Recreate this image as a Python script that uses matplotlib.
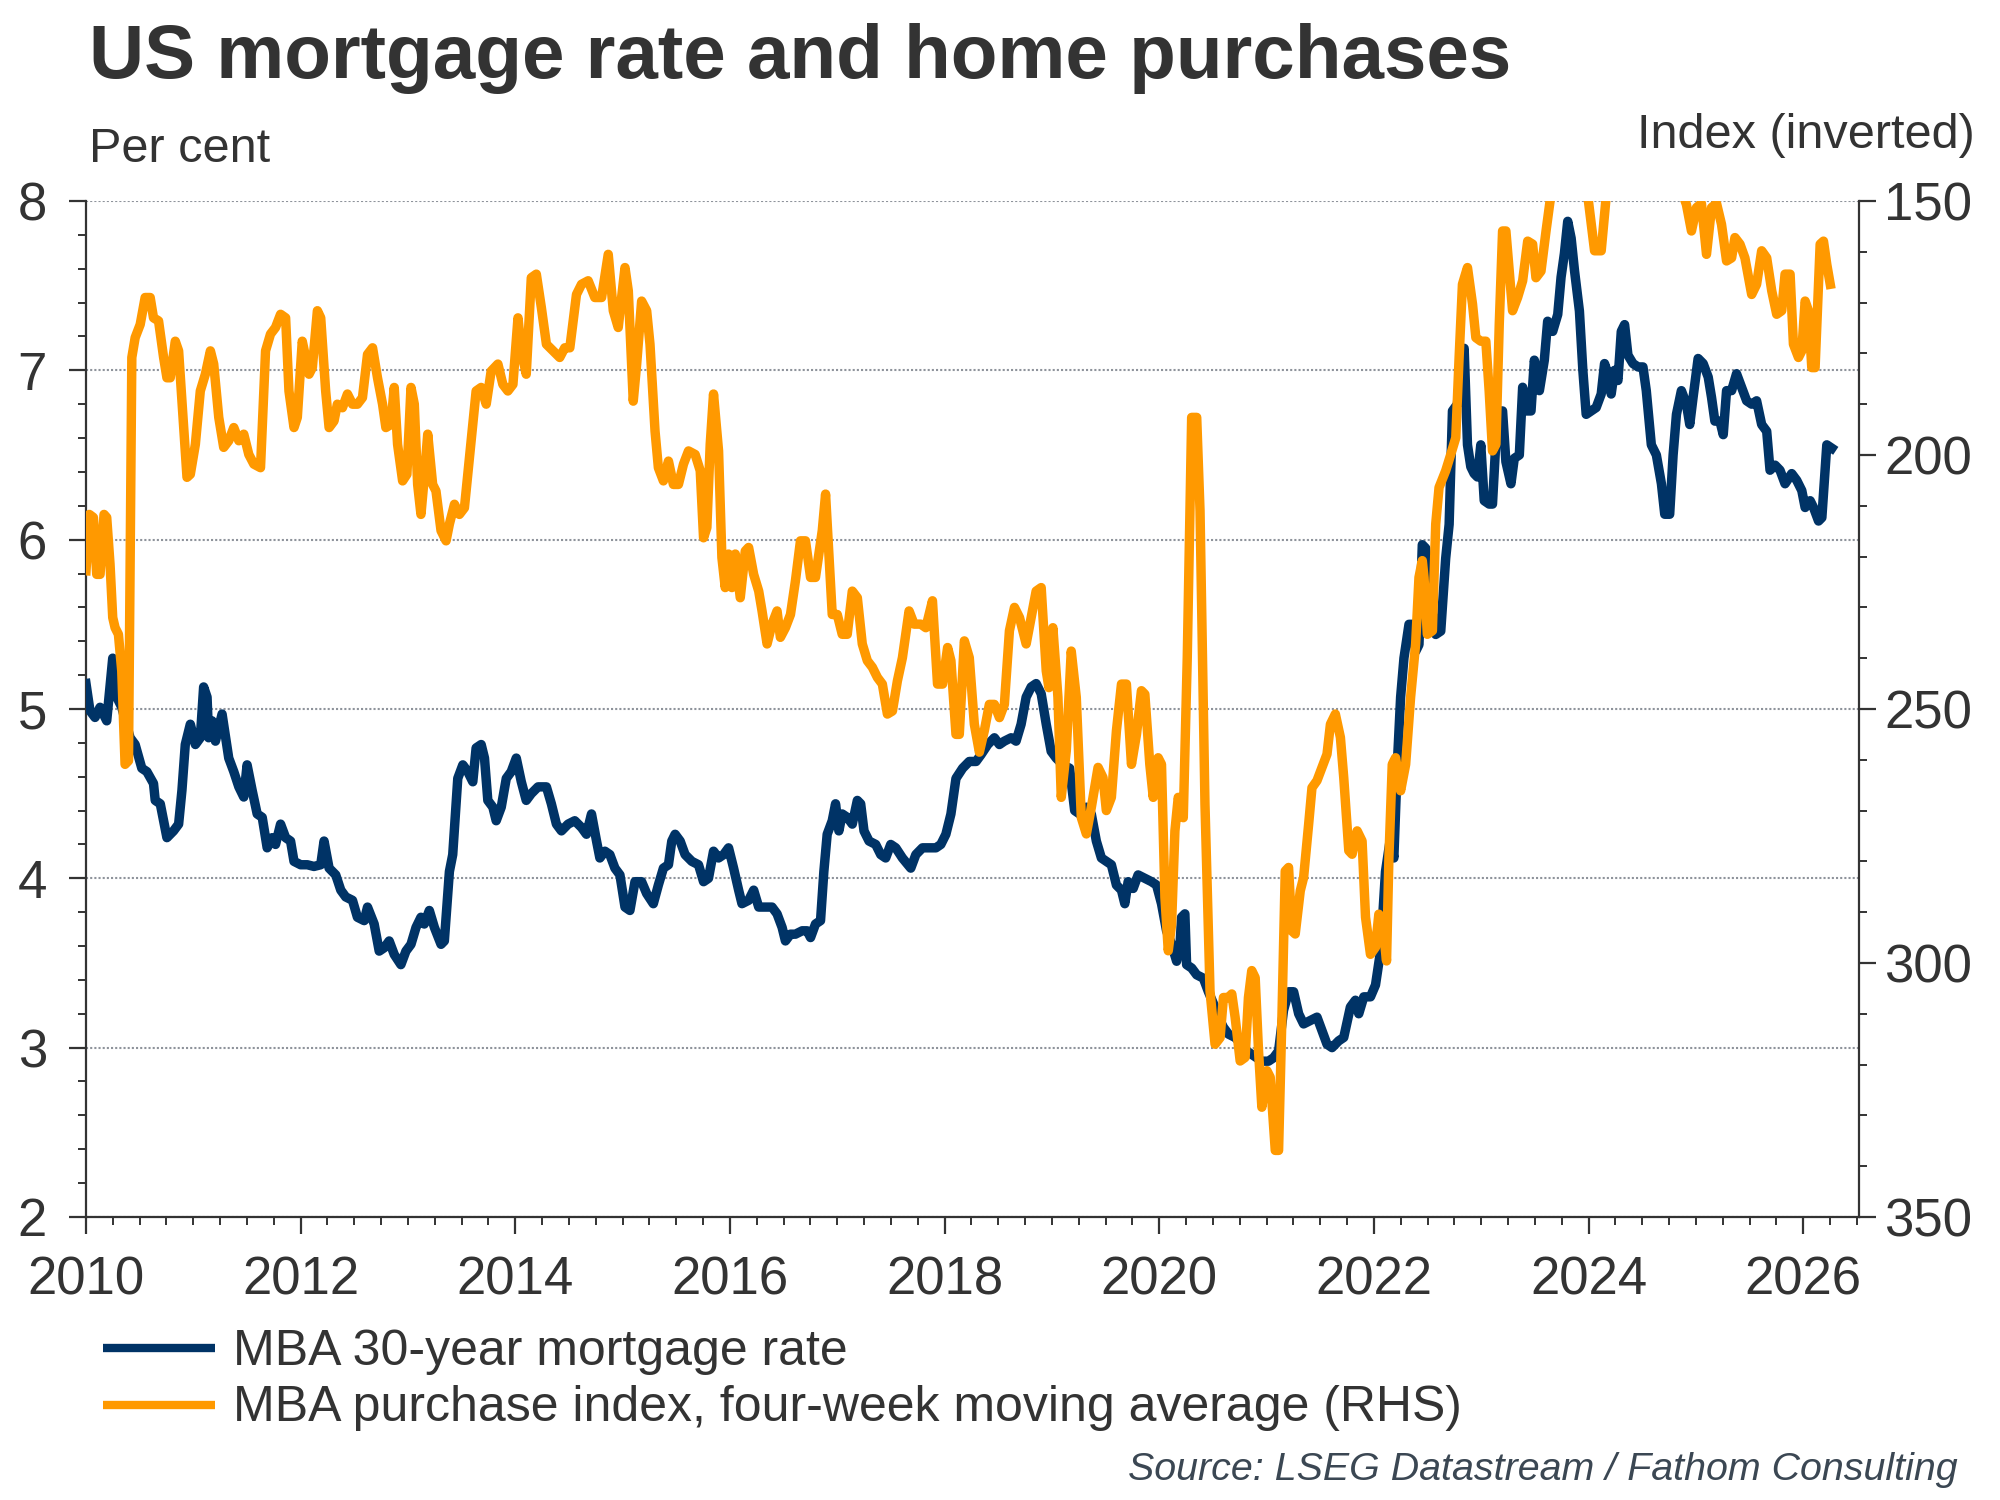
import matplotlib
matplotlib.use("Agg")
import matplotlib.pyplot as plt
from matplotlib.ticker import MultipleLocator, FixedLocator
from matplotlib.lines import Line2D

plt.rcParams['font.family'] = ['Liberation Sans', 'DejaVu Sans']

# ---------------- data (decimal year, value) ----------------
rate_dates = [
    2010.000, 2010.037, 2010.084, 2010.131, 2010.193, 2010.249, 2010.287, 2010.333, 2010.411, 2010.458,
    2010.520, 2010.567, 2010.629, 2010.645, 2010.692, 2010.754, 2010.816, 2010.863, 2010.894, 2010.925,
    2010.972, 2011.019, 2011.065, 2011.096, 2011.128, 2011.143, 2011.174, 2011.206, 2011.268, 2011.330,
    2011.377, 2011.424, 2011.470, 2011.501, 2011.548, 2011.595, 2011.642, 2011.688, 2011.735, 2011.766,
    2011.813, 2011.860, 2011.906, 2011.938, 2012.000, 2012.062, 2012.124, 2012.187, 2012.218, 2012.265,
    2012.327, 2012.374, 2012.420, 2012.483, 2012.529, 2012.592, 2012.623, 2012.685, 2012.732, 2012.779,
    2012.825, 2012.872, 2012.934, 2012.981, 2013.028, 2013.075, 2013.121, 2013.152, 2013.199, 2013.246,
    2013.308, 2013.339, 2013.386, 2013.417, 2013.464, 2013.511, 2013.557, 2013.604, 2013.635, 2013.682,
    2013.713, 2013.744, 2013.791, 2013.822, 2013.869, 2013.916, 2013.962, 2014.009, 2014.056, 2014.102,
    2014.149, 2014.212, 2014.290, 2014.336, 2014.383, 2014.430, 2014.492, 2014.554, 2014.617, 2014.663,
    2014.710, 2014.757, 2014.788, 2014.835, 2014.881, 2014.928, 2014.975, 2015.022, 2015.068, 2015.115,
    2015.177, 2015.224, 2015.286, 2015.333, 2015.380, 2015.427, 2015.458, 2015.489, 2015.536, 2015.582,
    2015.645, 2015.707, 2015.754, 2015.800, 2015.847, 2015.894, 2015.941, 2015.987, 2016.034, 2016.081,
    2016.112, 2016.174, 2016.221, 2016.268, 2016.330, 2016.392, 2016.439, 2016.486, 2016.517, 2016.564,
    2016.610, 2016.673, 2016.719, 2016.751, 2016.797, 2016.844, 2016.875, 2016.906, 2016.953, 2016.984,
    2017.015, 2017.046, 2017.093, 2017.140, 2017.187, 2017.218, 2017.249, 2017.296, 2017.358, 2017.405,
    2017.451, 2017.498, 2017.545, 2017.607, 2017.685, 2017.732, 2017.794, 2017.856, 2017.919, 2017.965,
    2018.012, 2018.059, 2018.106, 2018.168, 2018.230, 2018.293, 2018.339, 2018.402, 2018.464, 2018.511,
    2018.557, 2018.620, 2018.666, 2018.713, 2018.760, 2018.807, 2018.853, 2018.900, 2018.947, 2018.993,
    2019.040, 2019.103, 2019.165, 2019.212, 2019.258, 2019.321, 2019.367, 2019.414, 2019.461, 2019.507,
    2019.554, 2019.601, 2019.648, 2019.679, 2019.710, 2019.757, 2019.803, 2019.866, 2019.928, 2019.975,
    2020.021, 2020.068, 2020.115, 2020.162, 2020.193, 2020.208, 2020.239, 2020.255, 2020.302, 2020.349,
    2020.411, 2020.458, 2020.505, 2020.551, 2020.598, 2020.645, 2020.707, 2020.769, 2020.816, 2020.862,
    2020.909, 2020.956, 2021.018, 2021.065, 2021.112, 2021.158, 2021.205, 2021.252, 2021.299, 2021.345,
    2021.408, 2021.470, 2021.517, 2021.563, 2021.610, 2021.672, 2021.719, 2021.781, 2021.828, 2021.859,
    2021.906, 2021.968, 2022.015, 2022.062, 2022.108, 2022.155, 2022.186, 2022.218, 2022.249, 2022.280,
    2022.327, 2022.358, 2022.389, 2022.420, 2022.451, 2022.482, 2022.529, 2022.576, 2022.623, 2022.669,
    2022.701, 2022.732, 2022.778, 2022.810, 2022.841, 2022.872, 2022.903, 2022.934, 2022.965, 2022.996,
    2023.028, 2023.074, 2023.105, 2023.152, 2023.199, 2023.230, 2023.277, 2023.308, 2023.355, 2023.386,
    2023.417, 2023.464, 2023.495, 2023.542, 2023.588, 2023.619, 2023.666, 2023.713, 2023.744, 2023.775,
    2023.806, 2023.838, 2023.869, 2023.915, 2023.947, 2023.978, 2024.024, 2024.071, 2024.118, 2024.149,
    2024.180, 2024.211, 2024.242, 2024.274, 2024.305, 2024.336, 2024.367, 2024.414, 2024.461, 2024.507,
    2024.538, 2024.585, 2024.632, 2024.679, 2024.710, 2024.756, 2024.788, 2024.819, 2024.865, 2024.912,
    2024.943, 2024.974, 2025.021, 2025.068, 2025.115, 2025.146, 2025.177, 2025.224, 2025.255, 2025.286,
    2025.333, 2025.379, 2025.426, 2025.473, 2025.520, 2025.566, 2025.613, 2025.660, 2025.691, 2025.738,
    2025.784, 2025.831, 2025.893, 2025.940, 2025.987, 2026.018, 2026.065, 2026.096, 2026.143, 2026.174,
    2026.220, 2026.267,
]
rate_vals = [
    5.15, 4.99, 4.95, 5.01, 4.93, 5.30, 5.07, 5.01, 4.83, 4.79,
    4.65, 4.63, 4.56, 4.46, 4.44, 4.24, 4.28, 4.32, 4.52, 4.79,
    4.91, 4.79, 4.83, 5.13, 5.07, 4.83, 4.93, 4.81, 4.97, 4.71,
    4.63, 4.54, 4.48, 4.67, 4.52, 4.38, 4.36, 4.18, 4.24, 4.20,
    4.32, 4.24, 4.22, 4.10, 4.08, 4.08, 4.07, 4.08, 4.22, 4.06,
    4.02, 3.93, 3.89, 3.87, 3.77, 3.75, 3.83, 3.73, 3.57, 3.59,
    3.63, 3.55, 3.49, 3.57, 3.61, 3.71, 3.77, 3.73, 3.81, 3.71,
    3.61, 3.63, 4.04, 4.14, 4.59, 4.67, 4.63, 4.57, 4.77, 4.79,
    4.71, 4.46, 4.42, 4.34, 4.42, 4.59, 4.63, 4.71, 4.57, 4.46,
    4.50, 4.54, 4.54, 4.44, 4.32, 4.28, 4.32, 4.34, 4.30, 4.26,
    4.38, 4.22, 4.12, 4.16, 4.14, 4.06, 4.02, 3.83, 3.81, 3.98,
    3.98, 3.91, 3.85, 3.96, 4.06, 4.08, 4.22, 4.26, 4.22, 4.14,
    4.10, 4.08, 3.98, 4.00, 4.16, 4.12, 4.14, 4.18, 4.06, 3.93,
    3.85, 3.87, 3.93, 3.83, 3.83, 3.83, 3.79, 3.71, 3.63, 3.67,
    3.67, 3.69, 3.69, 3.65, 3.73, 3.75, 4.04, 4.26, 4.34, 4.44,
    4.28, 4.38, 4.36, 4.32, 4.46, 4.44, 4.28, 4.22, 4.20, 4.14,
    4.12, 4.20, 4.18, 4.12, 4.06, 4.14, 4.18, 4.18, 4.18, 4.20,
    4.26, 4.38, 4.59, 4.65, 4.69, 4.69, 4.73, 4.79, 4.83, 4.79,
    4.81, 4.83, 4.81, 4.91, 5.07, 5.13, 5.15, 5.09, 4.91, 4.75,
    4.71, 4.67, 4.65, 4.40, 4.38, 4.42, 4.38, 4.22, 4.12, 4.10,
    4.08, 3.96, 3.93, 3.85, 3.98, 3.94, 4.02, 4.00, 3.98, 3.96,
    3.85, 3.69, 3.61, 3.51, 3.60, 3.77, 3.79, 3.49, 3.47, 3.43,
    3.41, 3.33, 3.26, 3.18, 3.12, 3.08, 3.06, 3.02, 2.98, 2.96,
    2.94, 2.92, 2.92, 2.94, 2.98, 3.22, 3.33, 3.33, 3.20, 3.14,
    3.16, 3.18, 3.10, 3.02, 3.00, 3.04, 3.06, 3.24, 3.28, 3.20,
    3.30, 3.30, 3.37, 3.57, 4.04, 4.24, 4.12, 4.67, 5.07, 5.30,
    5.50, 5.50, 5.34, 5.38, 5.97, 5.95, 5.62, 5.44, 5.46, 5.89,
    6.09, 6.76, 6.80, 7.04, 7.13, 6.56, 6.43, 6.39, 6.37, 6.56,
    6.23, 6.21, 6.21, 6.76, 6.76, 6.46, 6.33, 6.48, 6.50, 6.90,
    6.76, 6.76, 7.06, 6.88, 7.06, 7.29, 7.23, 7.33, 7.55, 7.69,
    7.88, 7.78, 7.59, 7.35, 7.00, 6.74, 6.76, 6.78, 6.86, 7.04,
    6.98, 6.86, 7.00, 6.94, 7.23, 7.27, 7.09, 7.04, 7.02, 7.02,
    6.88, 6.56, 6.50, 6.33, 6.15, 6.15, 6.50, 6.74, 6.88, 6.80,
    6.68, 6.84, 7.07, 7.04, 6.96, 6.84, 6.70, 6.70, 6.62, 6.88,
    6.88, 6.98, 6.90, 6.82, 6.80, 6.82, 6.68, 6.64, 6.41, 6.44,
    6.41, 6.33, 6.39, 6.35, 6.29, 6.19, 6.23, 6.19, 6.11, 6.13,
    6.56, 6.54,
]

index_dates = [
    2010.000, 2010.031, 2010.069, 2010.100, 2010.131, 2010.168, 2010.193, 2010.224, 2010.249, 2010.271,
    2010.302, 2010.333, 2010.364, 2010.396, 2010.427, 2010.458, 2010.505, 2010.551, 2010.598, 2010.629,
    2010.676, 2010.723, 2010.754, 2010.785, 2010.832, 2010.863, 2010.941, 2010.972, 2011.019, 2011.065,
    2011.112, 2011.159, 2011.190, 2011.237, 2011.283, 2011.330, 2011.377, 2011.424, 2011.470, 2011.517,
    2011.564, 2011.626, 2011.673, 2011.719, 2011.766, 2011.813, 2011.860, 2011.891, 2011.938, 2011.969,
    2012.015, 2012.047, 2012.078, 2012.109, 2012.156, 2012.187, 2012.233, 2012.265, 2012.311, 2012.342,
    2012.389, 2012.436, 2012.483, 2012.529, 2012.576, 2012.623, 2012.670, 2012.716, 2012.763, 2012.794,
    2012.841, 2012.872, 2012.903, 2012.950, 2012.990, 2013.028, 2013.059, 2013.090, 2013.121, 2013.152,
    2013.184, 2013.230, 2013.261, 2013.308, 2013.355, 2013.386, 2013.433, 2013.479, 2013.526, 2013.573,
    2013.635, 2013.682, 2013.729, 2013.775, 2013.838, 2013.884, 2013.931, 2013.978, 2014.025, 2014.056,
    2014.102, 2014.149, 2014.196, 2014.243, 2014.290, 2014.352, 2014.414, 2014.461, 2014.508, 2014.570,
    2014.617, 2014.679, 2014.741, 2014.804, 2014.866, 2014.913, 2014.959, 2015.022, 2015.053, 2015.099,
    2015.131, 2015.177, 2015.224, 2015.255, 2015.302, 2015.333, 2015.380, 2015.427, 2015.473, 2015.520,
    2015.567, 2015.614, 2015.676, 2015.723, 2015.754, 2015.785, 2015.816, 2015.847, 2015.894, 2015.925,
    2015.956, 2015.987, 2016.018, 2016.050, 2016.096, 2016.143, 2016.174, 2016.221, 2016.268, 2016.299,
    2016.346, 2016.392, 2016.439, 2016.470, 2016.517, 2016.564, 2016.610, 2016.657, 2016.704, 2016.751,
    2016.797, 2016.828, 2016.860, 2016.891, 2016.922, 2016.953, 2017.000, 2017.046, 2017.093, 2017.140,
    2017.187, 2017.233, 2017.280, 2017.327, 2017.374, 2017.420, 2017.467, 2017.514, 2017.560, 2017.607,
    2017.669, 2017.716, 2017.778, 2017.825, 2017.887, 2017.934, 2017.981, 2018.028, 2018.059, 2018.106,
    2018.137, 2018.184, 2018.230, 2018.277, 2018.324, 2018.370, 2018.417, 2018.464, 2018.511, 2018.557,
    2018.604, 2018.651, 2018.698, 2018.760, 2018.807, 2018.853, 2018.900, 2018.947, 2018.972, 2019.009,
    2019.056, 2019.087, 2019.134, 2019.180, 2019.227, 2019.274, 2019.321, 2019.367, 2019.430, 2019.476,
    2019.507, 2019.554, 2019.601, 2019.648, 2019.694, 2019.741, 2019.788, 2019.834, 2019.866, 2019.912,
    2019.944, 2019.990, 2020.021, 2020.053, 2020.084, 2020.115, 2020.146, 2020.177, 2020.224, 2020.261,
    2020.302, 2020.349, 2020.380, 2020.426, 2020.473, 2020.520, 2020.567, 2020.598, 2020.645, 2020.676,
    2020.707, 2020.754, 2020.800, 2020.831, 2020.862, 2020.894, 2020.925, 2020.956, 2021.003, 2021.034,
    2021.081, 2021.112, 2021.143, 2021.174, 2021.205, 2021.236, 2021.267, 2021.314, 2021.345, 2021.392,
    2021.423, 2021.470, 2021.517, 2021.563, 2021.595, 2021.641, 2021.688, 2021.719, 2021.766, 2021.797,
    2021.844, 2021.890, 2021.922, 2021.968, 2022.015, 2022.046, 2022.077, 2022.118, 2022.140, 2022.171,
    2022.202, 2022.249, 2022.296, 2022.342, 2022.389, 2022.420, 2022.451, 2022.467, 2022.498, 2022.545,
    2022.576, 2022.607, 2022.669, 2022.716, 2022.763, 2022.794, 2022.825, 2022.872, 2022.919, 2022.950,
    2022.996, 2023.043, 2023.074, 2023.105, 2023.137, 2023.168, 2023.199, 2023.230, 2023.261, 2023.292,
    2023.339, 2023.386, 2023.433, 2023.479, 2023.510, 2023.557, 2023.604, 2023.651, 2023.700, 2023.800,
    2023.900, 2023.993, 2024.056, 2024.118, 2024.165, 2024.250, 2024.400, 2024.550, 2024.700, 2024.800,
    2024.912, 2024.959, 2025.006, 2025.052, 2025.099, 2025.146, 2025.193, 2025.239, 2025.286, 2025.333,
    2025.364, 2025.411, 2025.457, 2025.520, 2025.566, 2025.613, 2025.660, 2025.707, 2025.753, 2025.800,
    2025.831, 2025.878, 2025.909, 2025.956, 2025.987, 2026.018, 2026.049, 2026.080, 2026.111, 2026.158,
    2026.189, 2026.220, 2026.252,
]
index_vals = [
    222.8, 211.7, 212.3, 223.5, 223.5, 211.7, 212.3, 221.5, 232.0, 234.0,
    235.3, 242.5, 260.9, 260.2, 180.8, 176.9, 174.3, 169.0, 169.0, 173.0,
    173.6, 180.8, 184.8, 184.8, 177.6, 179.5, 204.4, 203.8, 197.9, 187.4,
    184.1, 179.5, 182.1, 192.6, 198.5, 197.2, 194.6, 197.2, 195.9, 199.9,
    201.8, 202.5, 179.5, 176.2, 174.9, 172.3, 173.0, 187.4, 194.6, 192.6,
    177.6, 180.8, 184.1, 182.8, 171.6, 173.0, 187.4, 194.6, 193.3, 190.0,
    190.7, 188.0, 190.0, 190.0, 188.7, 180.2, 178.9, 184.8, 190.0, 194.6,
    194.0, 186.7, 197.9, 205.1, 203.8, 186.7, 190.0, 205.8, 211.7, 204.4,
    195.9, 205.8, 207.1, 214.9, 216.9, 213.6, 209.7, 211.7, 210.4, 200.5,
    187.4, 186.7, 190.0, 183.5, 182.1, 186.1, 187.4, 186.1, 173.0, 179.5,
    184.1, 165.1, 164.4, 171.0, 178.2, 179.5, 180.8, 178.9, 178.9, 168.4,
    166.4, 165.7, 169.0, 169.0, 160.5, 171.6, 174.9, 163.1, 167.7, 189.4,
    182.1, 169.7, 171.6, 178.2, 195.3, 202.5, 205.1, 201.2, 205.8, 205.8,
    201.8, 199.2, 199.9, 203.1, 216.3, 214.3, 197.9, 188.0, 199.2, 220.2,
    226.1, 219.5, 226.1, 219.5, 228.1, 218.9, 218.2, 223.5, 226.8, 230.7,
    237.2, 233.3, 230.7, 235.9, 234.0, 231.4, 224.8, 216.9, 216.9, 224.1,
    224.1, 219.5, 214.9, 207.7, 219.5, 231.4, 231.4, 235.3, 235.3, 226.8,
    228.1, 237.2, 240.5, 241.8, 243.8, 245.1, 251.0, 250.4, 244.5, 239.9,
    230.7, 233.3, 233.3, 234.0, 228.7, 245.1, 245.1, 237.9, 240.5, 255.0,
    255.0, 236.6, 239.9, 253.0, 258.5, 254.3, 249.1, 249.1, 251.7, 249.1,
    234.6, 230.0, 232.0, 237.2, 232.0, 226.8, 226.1, 242.5, 245.8, 234.0,
    247.7, 267.4, 258.2, 238.6, 247.7, 271.4, 274.6, 269.4, 261.5, 263.5,
    270.0, 267.4, 254.3, 245.1, 245.1, 260.9, 255.0, 246.4, 247.1, 260.9,
    267.4, 259.6, 260.9, 287.1, 297.6, 292.4, 274.0, 267.4, 271.4, 239.9,
    192.6, 192.6, 211.0, 268.7, 305.5, 316.0, 314.7, 306.8, 306.8, 306.1,
    310.7, 319.3, 318.6, 306.8, 301.5, 302.9, 317.3, 328.4, 321.2, 322.5,
    336.9, 336.9, 310.7, 281.9, 281.2, 293.7, 294.3, 285.8, 283.2, 272.7,
    265.5, 264.1, 261.5, 258.9, 253.0, 251.0, 255.6, 263.5, 277.9, 278.6,
    274.0, 276.0, 291.0, 298.3, 296.9, 290.4, 291.7, 299.6, 279.2, 260.9,
    259.6, 266.1, 260.9, 247.7, 237.2, 224.1, 220.8, 224.1, 235.3, 234.6,
    213.6, 206.4, 203.1, 199.9, 196.6, 180.8, 166.4, 163.1, 170.3, 176.9,
    177.6, 177.6, 187.4, 199.2, 197.9, 174.3, 155.9, 155.9, 163.8, 171.6,
    169.0, 165.7, 157.9, 158.5, 165.1, 163.8, 155.9, 148.5, 143.0, 140.0,
    142.0, 149.0, 159.8, 159.8, 149.0, 144.0, 140.0, 142.0, 141.0, 144.0,
    150.7, 155.9, 151.3, 150.5, 160.5, 151.3, 150.5, 154.6, 161.8, 161.2,
    157.2, 158.5, 161.2, 168.4, 166.4, 159.8, 161.2, 167.7, 172.3, 171.6,
    164.4, 164.4, 178.2, 180.8, 179.5, 169.7, 171.6, 182.8, 182.8, 158.5,
    157.9, 162.5, 166.4,
]

left_ticks = [2, 3, 4, 5, 6, 7, 8]
right_ticks = [150, 200, 250, 300, 350]
year_ticks = [2010, 2012, 2014, 2016, 2018, 2020, 2022, 2024, 2026]

title = "US mortgage rate and home purchases"
left_unit = "Per cent"
right_unit = "Index (inverted)"
label_rate = "MBA 30-year mortgage rate"
label_index = "MBA purchase index, four-week moving average (RHS)"
source = "Source: LSEG Datastream / Fathom Consulting"

# ---------------- styling ----------------
NAVY = "#003366"
ORANGE = "#FF9900"
TXT = "#333333"
GRID = "#8e939b"
LW = 6.8

fig = plt.figure(figsize=(20, 15), dpi=100)
ax = fig.add_axes([0.043, 0.1887, 0.8865, 0.6773])
ax2 = ax.twinx()

ax.plot(rate_dates, rate_vals, color=NAVY, lw=LW, solid_joinstyle='round', zorder=3)
ax2.plot(index_dates, index_vals, color=ORANGE, lw=LW, solid_joinstyle='round', zorder=3)

ax.set_xlim(2010, 2026.52)
ax.set_ylim(2, 8)
ax2.set_ylim(350, 150)

ax.xaxis.set_major_locator(FixedLocator(year_ticks))
ax.xaxis.set_minor_locator(MultipleLocator(0.25))
ax.set_xticklabels([str(y) for y in year_ticks])
ax.yaxis.set_major_locator(FixedLocator(left_ticks))
ax.yaxis.set_minor_locator(MultipleLocator(0.2))
ax2.yaxis.set_major_locator(FixedLocator(right_ticks))
ax2.yaxis.set_minor_locator(MultipleLocator(10))

for a in (ax, ax2):
    a.spines['top'].set_visible(False)
    for s in a.spines.values():
        s.set_color(TXT)
        s.set_linewidth(1.6)
ax.spines['right'].set_visible(False)
ax2.spines['left'].set_visible(False)
ax2.spines['bottom'].set_visible(False)

ax.tick_params(axis='both', which='major', direction='out', length=12, width=1.6,
               color=TXT, labelcolor=TXT, labelsize=38)
ax.tick_params(axis='both', which='minor', direction='out', length=6, width=1.4, color=TXT)
ax.tick_params(axis='y', which='major', pad=16)
ax.tick_params(axis='x', which='major', pad=16)
ax2.tick_params(axis='y', which='major', direction='out', length=12, width=1.6,
                color=TXT, labelcolor=TXT, labelsize=38, pad=6)
ax2.tick_params(axis='y', which='minor', direction='out', length=6, width=1.4, color=TXT)

ax.grid(axis='y', which='major', color=GRID, lw=1.5, linestyle=(0, (1, 1)))
ax.set_axisbelow(True)

fig.text(0.0445, 0.961, title, fontsize=55, fontweight='bold', color=TXT,
         ha='left', va='center')
fig.text(0.0445, 0.9005, left_unit, fontsize=35, color=TXT, ha='left', va='center')
fig.text(0.9876, 0.9094, right_unit, fontsize=35, color=TXT, ha='right', va='center')

# legend drawn as figure artists
fig.add_artist(Line2D([0.0515, 0.1075], [0.1013, 0.1013], color=NAVY, lw=6,
                      transform=fig.transFigure, solid_capstyle='butt'))
fig.add_artist(Line2D([0.0515, 0.1075], [0.0633, 0.0633], color=ORANGE, lw=6,
                      transform=fig.transFigure, solid_capstyle='butt'))
fig.text(0.1165, 0.090, label_rate, fontsize=36, color=TXT, ha='left', va='baseline')
fig.text(0.1165, 0.0527, label_index, fontsize=36, color=TXT, ha='left', va='baseline')

fig.text(0.979, 0.020, source, fontsize=28.4, style='italic', color="#3b4753",
         ha='right', va='center')

fig.savefig("out.png", dpi=100, facecolor='white')
